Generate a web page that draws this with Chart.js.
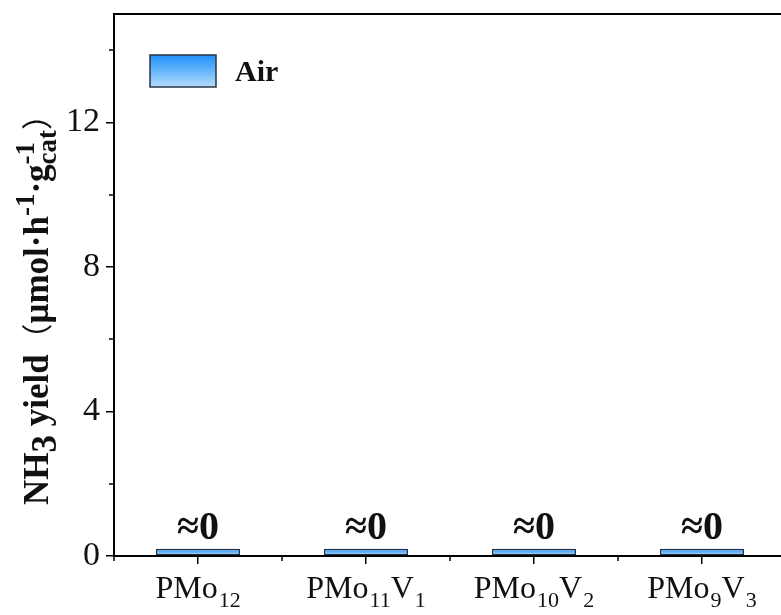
<!DOCTYPE html>
<html>
<head>
<meta charset="utf-8">
<script src="https://cdn.jsdelivr.net/npm/chart.js@4"></script>
<style>
  html, body { margin: 0; padding: 0; background: #fff; overflow: hidden; }
  #wrap { width: 790px; height: 615px; }
</style>
</head>
<body>
<div id="wrap"><canvas id="chart" width="790" height="615"></canvas></div>
<script>
// NH3 yield under air for the four polyoxometalates
const categories = ["PMo12", "PMo11V1", "PMo10V2", "PMo9V3"];
const airYield = [0.2, 0.2, 0.2, 0.2];
const valueLabels = ["≈0", "≈0", "≈0", "≈0"];
const yTicks = [0, 4, 8, 12];
const yMinorTicks = [2, 6, 10, 14];
const seriesName = "Air";

const SERIF = "'Liberation Serif', 'Times New Roman', serif";
const CJK = "'Noto Sans CJK SC', sans-serif";

// split "PMo11V1" into normal text + subscript digits
function labelParts(name) {
  return name.split(/(\d+)/).filter(s => s.length).map(s => ({ text: s, sub: /^\d+$/.test(s) }));
}

function barGradient(ctx) {
  const chart = ctx.chart;
  const y = chart.scales.y;
  if (!y || !chart.chartArea) return "#5ab0f2";
  const top = y.getPixelForValue(ctx.raw);
  const base = y.getPixelForValue(0);
  const g = chart.ctx.createLinearGradient(0, top, 0, base);
  g.addColorStop(0, "#2b95f5");
  g.addColorStop(1, "#a8d6fb");
  return g;
}

const decorations = {
  id: "decorations",
  afterDraw(chart) {
    const { ctx, chartArea, scales } = chart;
    const x = scales.x, y = scales.y;
    ctx.save();

    // top frame line
    ctx.strokeStyle = "#000";
    ctx.lineWidth = 2;
    ctx.beginPath();
    ctx.moveTo(chartArea.left - 1, chartArea.top);
    ctx.lineTo(chartArea.right + 1, chartArea.top);
    ctx.stroke();

    // minor ticks on y
    ctx.lineWidth = 1.5;
    yMinorTicks.forEach(v => {
      const py = Math.round(y.getPixelForValue(v));
      ctx.beginPath();
      ctx.moveTo(chartArea.left, py);
      ctx.lineTo(chartArea.left - 5, py);
      ctx.stroke();
    });

    // minor ticks on x at category boundaries
    for (let i = 0; i <= categories.length; i++) {
      const px = Math.round(x.getPixelForValue(i - 0.5));
      ctx.beginPath();
      ctx.moveTo(px, chartArea.bottom);
      ctx.lineTo(px, chartArea.bottom + 5);
      ctx.stroke();
    }

    // x tick labels with subscripts
    ctx.fillStyle = "#111";
    ctx.textBaseline = "alphabetic";
    ctx.textAlign = "left";
    categories.forEach((name, i) => {
      const parts = labelParts(name);
      let w = 0;
      parts.forEach(p => {
        ctx.font = (p.sub ? "22px " : "32px ") + SERIF;
        w += ctx.measureText(p.text).width + (p.sub ? 1 : 0);
      });
      let cx = x.getPixelForValue(i) - w / 2;
      const base = chartArea.bottom + 42;
      parts.forEach(p => {
        ctx.font = (p.sub ? "22px " : "32px ") + SERIF;
        ctx.fillText(p.text, cx + (p.sub ? 1 : 0), base + (p.sub ? 9 : 0));
        cx += ctx.measureText(p.text).width + (p.sub ? 1 : 0);
      });
    });

    // value labels above bars
    const meta = chart.getDatasetMeta(0);
    ctx.font = "bold 40px " + SERIF;
    ctx.textAlign = "center";
    meta.data.forEach((bar, i) => {
      ctx.fillText(valueLabels[i], bar.x, bar.y - 10);
    });

    // legend
    const ds = chart.data.datasets[0];
    const bx = chartArea.left + 36, by = chartArea.top + 41, bw = 66, bh = 32;
    const g = ctx.createLinearGradient(0, by, 0, by + bh);
    g.addColorStop(0, "#1e8ff8");
    g.addColorStop(1, "#b3ddfd");
    ctx.fillStyle = g;
    ctx.fillRect(bx, by, bw, bh);
    ctx.strokeStyle = "#2a3440";
    ctx.lineWidth = 1.5;
    ctx.strokeRect(bx, by, bw, bh);
    ctx.fillStyle = "#111";
    ctx.font = "bold 30px " + SERIF;
    ctx.textAlign = "left";
    ctx.textBaseline = "middle";
    ctx.fillText(ds.label, bx + bw + 19, by + bh / 2 + 2);

    // rotated y-axis title
    const title = [
      { t: "NH", f: "bold 35px " + SERIF, dy: 0 },
      { t: "3", f: "bold 35px " + SERIF, dy: 8 },
      { t: " yield", f: "bold 35px " + SERIF, dy: 0 },
      { t: "（", f: "31px " + CJK, dy: 0 },
      { t: "μmol·h", f: "bold 35px " + SERIF, dy: 0 },
      { t: "-1", f: "bold 27px " + SERIF, dy: -14 },
      { t: "·g", f: "bold 35px " + SERIF, dy: 0 },
      { stack: [{ t: "-1", f: "bold 27px " + SERIF, dy: -14 }, { t: "cat", f: "bold 27px " + SERIF, dy: 8 }] },
      { t: "）", f: "31px " + CJK, dy: 0 }
    ];
    const widthOf = p => {
      if (p.stack) return Math.max(...p.stack.map(widthOf));
      ctx.font = p.f;
      return ctx.measureText(p.t).width;
    };
    const total = title.reduce((s, p) => s + widthOf(p), 0);
    ctx.translate(48, 302);
    ctx.rotate(-Math.PI / 2);
    ctx.textBaseline = "alphabetic";
    ctx.textAlign = "left";
    let tx = -total / 2;
    title.forEach(p => {
      const items = p.stack || [p];
      items.forEach(it => {
        ctx.font = it.f;
        ctx.fillText(it.t, tx, it.dy);
      });
      tx += widthOf(p);
    });

    ctx.restore();
  }
};

new Chart(document.getElementById("chart"), {
  type: "bar",
  data: {
    labels: categories,
    datasets: [{
      label: seriesName,
      data: airYield,
      backgroundColor: barGradient,
      borderColor: "#1d2f44",
      borderWidth: 1.5,
      borderSkipped: false,
      barPercentage: 0.5,
      categoryPercentage: 1
    }]
  },
  options: {
    responsive: false,
    animation: false,
    layout: { padding: { top: 14, right: 4, left: 0, bottom: 0 } },
    plugins: { legend: { display: false }, tooltip: { enabled: false } },
    scales: {
      x: {
        type: "category",
        offset: true,
        grid: { offset: false, drawOnChartArea: false, drawTicks: true, tickLength: 8, color: "#000", lineWidth: 1.5 },
        border: { display: true, color: "#000", width: 2 },
        ticks: { display: false },
        afterFit(scale) { scale.height = 59; }
      },
      y: {
        min: 0,
        max: 15,
        grid: { drawOnChartArea: false, drawTicks: true, tickLength: 8, color: "#000", lineWidth: 1.5 },
        border: { display: true, color: "#000", width: 2 },
        ticks: {
          stepSize: 4,
          includeBounds: false,
          autoSkip: false,
          padding: 6,
          color: "#111",
          font: { family: SERIF, size: 34 },
          callback: v => (yTicks.includes(v) ? String(v) : "")
        },
        afterFit(scale) {
          scale.width = 114;
          scale.paddingTop = 0;
          scale.paddingBottom = 0;
        }
      }
    }
  },
  plugins: [decorations]
});
</script>
</body>
</html>
